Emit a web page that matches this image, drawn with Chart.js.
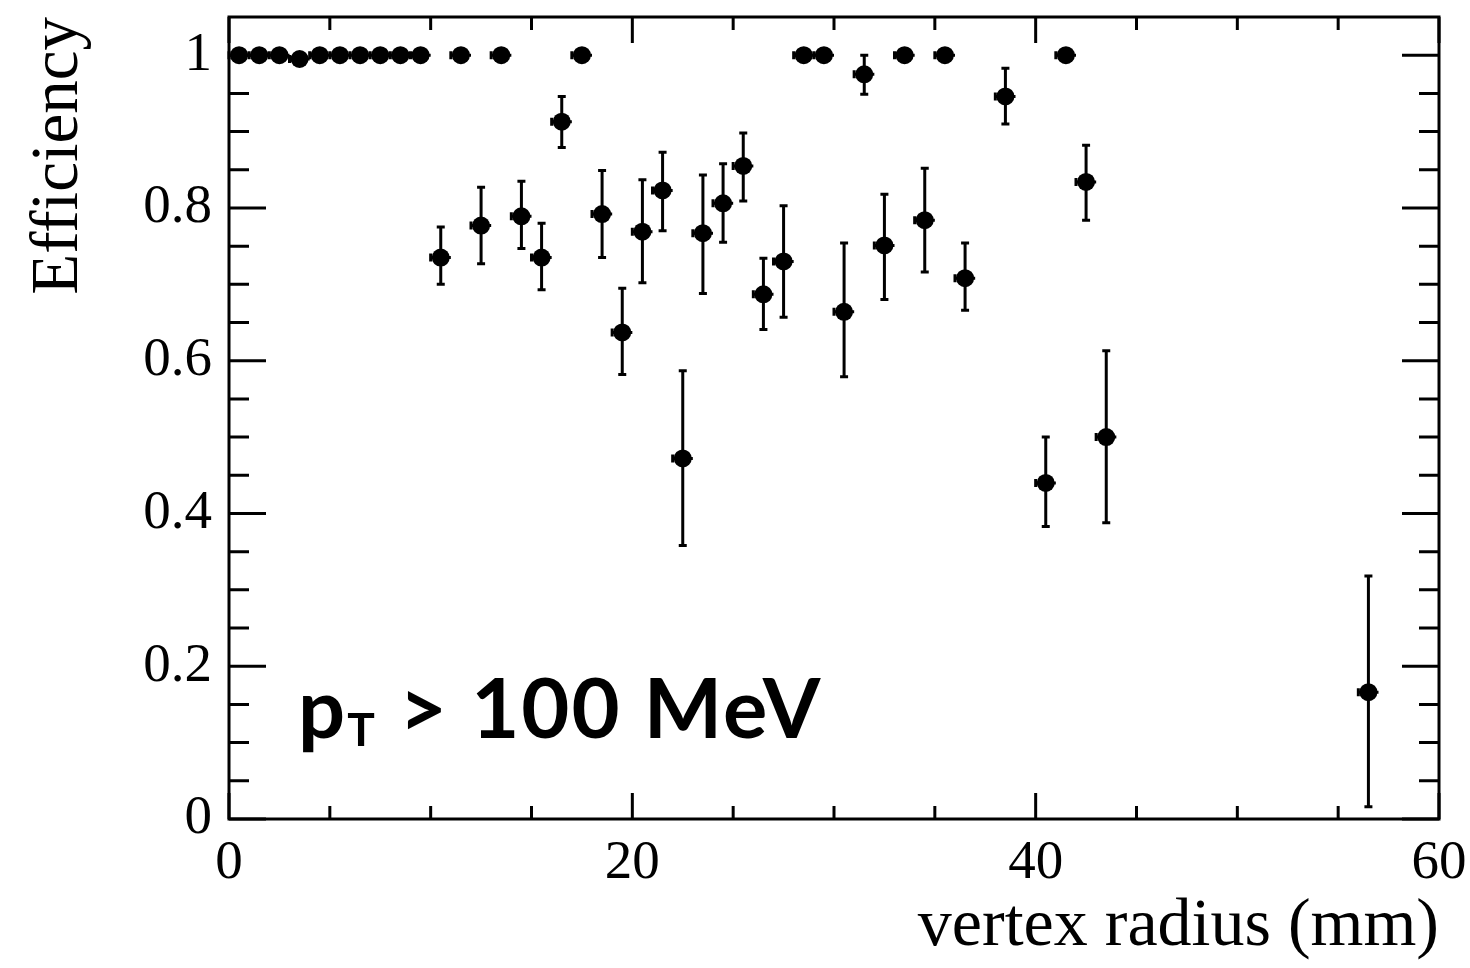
<!DOCTYPE html>
<html>
<head>
<meta charset="utf-8">
<script src="https://cdn.jsdelivr.net/npm/chart.js@4.4.0/dist/chart.umd.min.js"></script>
<style>
  html, body { margin: 0; padding: 0; background: #fff; }
</style>
</head>
<body>
<canvas id="effChart" width="1470" height="968"></canvas>
<script>
// bin centres in mm (bins are 1 mm wide)
var radius = [0.5, 1.5, 2.5, 3.5, 4.5, 5.5, 6.5, 7.5, 8.5, 9.5,
  10.5, 11.5, 12.5, 13.5, 14.5, 15.5, 16.5, 17.5, 18.5, 19.5,
  20.5, 21.5, 22.5, 23.5, 24.5, 25.5, 26.5, 27.5, 28.5, 29.5,
  30.5, 31.5, 32.5, 33.5, 34.5, 35.5, 36.5, 38.5, 40.5, 41.5,
  42.5, 43.5, 56.5];
var efficiency = [1, 1, 1, 0.995, 1, 1, 1, 1, 1, 1,
  0.735, 1, 0.777, 1, 0.789, 0.735, 0.913, 1, 0.792, 0.637,
  0.769, 0.823, 0.472, 0.767, 0.806, 0.855, 0.687, 0.730, 1, 1,
  0.664, 0.975, 0.751, 1, 0.784, 1, 0.708, 0.946, 0.440, 1,
  0.834, 0.500, 0.166];
var errUp = [0, 0, 0, 0.005, 0, 0, 0, 0, 0, 0,
  0.040, 0, 0.050, 0, 0.046, 0.045, 0.033, 0, 0.057, 0.058,
  0.068, 0.050, 0.115, 0.076, 0.052, 0.043, 0.047, 0.073, 0, 0,
  0.090, 0.025, 0.067, 0, 0.068, 0, 0.046, 0.037, 0.060, 0,
  0.048, 0.113, 0.152];
var errDown = [0, 0, 0, 0.005, 0, 0, 0, 0, 0, 0,
  0.035, 0, 0.050, 0, 0.042, 0.042, 0.034, 0, 0.057, 0.055,
  0.067, 0.053, 0.114, 0.079, 0.051, 0.046, 0.046, 0.073, 0, 0,
  0.085, 0.026, 0.071, 0, 0.068, 0, 0.042, 0.036, 0.057, 0,
  0.050, 0.112, 0.150];
var binHalfWidth = 0.5;

var xTicks = [0, 20, 40, 60];
var yTicks = [0, 0.2, 0.4, 0.6, 0.8, 1];

var serif = 'Liberation Serif';

// x/y error bars, drawn under the markers
var errorBars = {
  id: 'errorBars',
  beforeDatasetsDraw: function (chart) {
    var ctx = chart.ctx, xs = chart.scales.x, ys = chart.scales.y;
    ctx.save();
    ctx.strokeStyle = '#000';
    ctx.lineWidth = 3;
    radius.forEach(function (r, i) {
      var px = xs.getPixelForValue(r);
      var py = ys.getPixelForValue(efficiency[i]);
      var left = xs.getPixelForValue(r - binHalfWidth);
      var right = xs.getPixelForValue(r + binHalfWidth);
      ctx.beginPath();
      ctx.moveTo(left, py); ctx.lineTo(right, py);
      ctx.moveTo(left, py - 4); ctx.lineTo(left, py + 4);
      if (errUp[i] + errDown[i] > 0.01) {
        var top = ys.getPixelForValue(efficiency[i] + errUp[i]);
        var bot = ys.getPixelForValue(efficiency[i] - errDown[i]);
        ctx.moveTo(px, top); ctx.lineTo(px, bot);
        ctx.moveTo(px - 4, top); ctx.lineTo(px + 4, top);
        ctx.moveTo(px - 4, bot); ctx.lineTo(px + 4, bot);
      }
      ctx.stroke();
    });
    ctx.restore();
  }
};

// ROOT style frame with inward ticks on all four sides
var frame = {
  id: 'frame',
  afterDraw: function (chart) {
    var a = chart.chartArea, xs = chart.scales.x, ys = chart.scales.y, ctx = chart.ctx;
    ctx.save();
    ctx.strokeStyle = '#000';
    ctx.lineWidth = 3;
    ctx.strokeRect(a.left, a.top, a.right - a.left, a.bottom - a.top);
    ctx.beginPath();
    for (var v = 0; v <= 60; v += 5) {
      var px = xs.getPixelForValue(v);
      var len = v % 20 === 0 ? 26 : 13;
      ctx.moveTo(px, a.bottom); ctx.lineTo(px, a.bottom - len);
      ctx.moveTo(px, a.top); ctx.lineTo(px, a.top + len);
    }
    for (var k = 0; k <= 20; k++) {
      var py = ys.getPixelForValue(k * 0.05);
      var l = k % 4 === 0 ? 37 : 20;
      ctx.moveTo(a.left, py); ctx.lineTo(a.left + l, py);
      ctx.moveTo(a.right, py); ctx.lineTo(a.right - l, py);
    }
    ctx.stroke();
    ctx.restore();
  }
};

// "pT > 100 MeV" label inside the frame
var ptLabel = {
  id: 'ptLabel',
  afterDraw: function (chart) {
    var ctx = chart.ctx, a = chart.chartArea;
    var x = a.left + 69, y = a.bottom - 81;
    ctx.save();
    ctx.fillStyle = '#000';
    ctx.textBaseline = 'alphabetic';
    ctx.textAlign = 'left';
    ctx.letterSpacing = '2px';
    ctx.font = 'bold 83px Lato';
    ctx.fillText('p', x, y);
    var w = ctx.measureText('p').width;
    ctx.font = 'bold 46px Lato';
    ctx.fillText('T', x + w, y + 8);
    var w2 = ctx.measureText('T').width;
    ctx.font = 'bold 83px Lato';
    ctx.fillText(' > 100 MeV', x + w + w2, y);
    ctx.restore();
  }
};

var ctx = document.getElementById('effChart').getContext('2d');
var chart = new Chart(ctx, {
  type: 'scatter',
  data: {
    datasets: [{
      label: 'Efficiency',
      data: radius.map(function (r, i) { return { x: r, y: efficiency[i] }; }),
      pointStyle: 'circle',
      pointRadius: 9,
      pointBackgroundColor: '#000',
      pointBorderWidth: 0
    }]
  },
  options: {
    responsive: false,
    animation: false,
    layout: {
      autoPadding: false,
      padding: { left: 0, top: 17, right: 31, bottom: 0 }
    },
    plugins: {
      legend: { display: false },
      tooltip: { enabled: false }
    },
    scales: {
      x: {
        type: 'linear',
        min: 0,
        max: 60,
        afterBuildTicks: function (s) { s.ticks = xTicks.map(function (v) { return { value: v }; }); },
        afterFit: function (s) {
          s.height = 149;
          s.paddingLeft = 0; s.paddingRight = 0;
        },
        grid: { display: false, drawTicks: false },
        border: { display: false },
        ticks: {
          color: '#000',
          padding: 12,
          maxRotation: 0,
          autoSkip: false,
          font: { family: serif, size: 55 },
          callback: function (v) { return String(v); }
        },
        title: {
          display: true,
          text: 'vertex radius (mm)',
          align: 'end',
          color: '#000',
          font: { family: serif, size: 68 },
          padding: { top: 0, bottom: 0 }
        }
      },
      y: {
        type: 'linear',
        min: 0,
        max: 1.05,
        afterBuildTicks: function (s) { s.ticks = yTicks.map(function (v) { return { value: v }; }); },
        afterFit: function (s) {
          s.width = 229;
          s.paddingTop = 0; s.paddingBottom = 0;
        },
        grid: { display: false, drawTicks: false },
        border: { display: false },
        ticks: {
          color: '#000',
          padding: 17,
          autoSkip: false,
          font: { family: serif, size: 55 },
          callback: function (v) { return String(v); }
        },
        title: {
          display: true,
          text: 'Efficiency',
          align: 'end',
          color: '#000',
          font: { family: serif, size: 67 },
          padding: { top: 19, bottom: 0 }
        }
      }
    }
  },
  plugins: [errorBars, frame, ptLabel]
});
</script>
</body>
</html>
